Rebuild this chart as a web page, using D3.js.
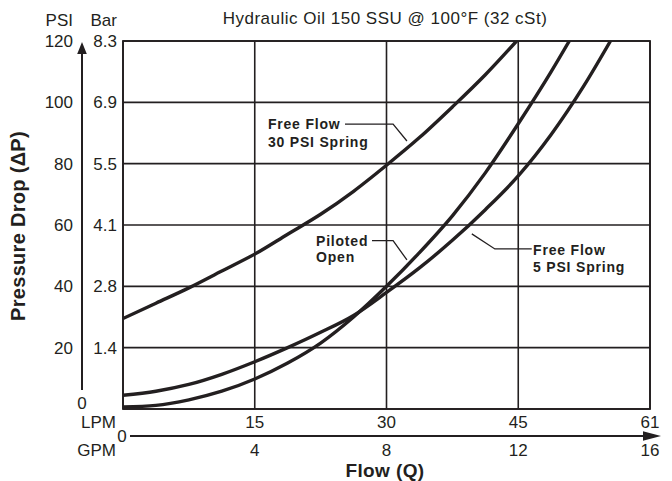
<!DOCTYPE html>
<html>
<head>
<meta charset="utf-8">
<script src="https://cdn.jsdelivr.net/npm/d3@7/dist/d3.min.js"></script>
<style>
  html, body { margin: 0; padding: 0; background: #fff; }
  svg { display: block; font-family: "Liberation Sans", Arial, Helvetica, sans-serif; }
</style>
</head>
<body>
<svg id="chart" width="672" height="481"></svg>
<script>
// ---------- data ----------
const gpmTicks = [0, 4, 8, 12, 16];
const gpmLabels = ["0", "4", "8", "12", "16"];
const lpmLabels = ["15", "30", "45", "61"];          // shown at GPM 4, 8, 12, 16
const psiTicks = [0, 20, 40, 60, 80, 100, 120];
const psiLabels = ["0", "20", "40", "60", "80", "100", "120"];
const barLabels = ["1.4", "2.8", "4.1", "5.5", "6.9", "8.3"];   // at PSI 20..120

const freeFlow30Gpm = [0, 1, 2, 3, 4, 5, 6, 7, 8, 9, 10, 11, 11.95];
const freeFlow30Psi = [29.5, 34.5, 39.5, 45, 50.5, 57, 63.5, 71, 79.5, 88.5, 98.5, 109, 120];

const pilotedGpm = [0, 1, 2, 3, 4, 5, 6, 7, 8, 9, 10, 11, 12, 13, 13.55];
const pilotedPsi = [0.7, 1.2, 3, 5.8, 9.8, 15, 21.5, 30, 40, 51, 63, 77, 93, 110, 120];

const freeFlow5Gpm = [0, 1, 2, 3, 4, 5, 6, 7, 8, 9, 10, 11, 12, 13, 14, 14.8];
const freeFlow5Psi = [4.5, 5.8, 8, 11.3, 15.4, 20, 25, 30.5, 38, 46, 55, 65, 76, 89.5, 105.5, 120];

// ---------- setup ----------
const ink = "#231f20";
const svg = d3.select("#chart");
const x = d3.scaleLinear().domain([0, 16]).range([123, 650]);
const y = d3.scaleLinear().domain([0, 120]).range([409, 41]);

svg.append("defs").append("clipPath").attr("id", "plotClip")
  .append("rect").attr("x", x(0)).attr("y", y(120)).attr("width", x(16) - x(0)).attr("height", y(0) - y(120));

// grid
const grid = svg.append("g");
grid.selectAll("line.h").data(psiTicks).join("line")
  .attr("x1", x(0)).attr("x2", x(16)).attr("y1", d => y(d)).attr("y2", d => y(d))
  .attr("stroke", ink).attr("stroke-width", 1.6);
grid.selectAll("line.v").data(gpmTicks).join("line")
  .attr("y1", y(0)).attr("y2", y(120)).attr("x1", d => x(d)).attr("x2", d => x(d))
  .attr("stroke", ink).attr("stroke-width", 1.6);
grid.append("rect").attr("x", x(0)).attr("y", y(120)).attr("width", x(16) - x(0)).attr("height", y(0) - y(120))
  .attr("fill", "none").attr("stroke", ink).attr("stroke-width", 1.8);

// curves
const line = d3.line().x(d => x(d[0])).y(d => y(d[1])).curve(d3.curveMonotoneX);
const series = [
  d3.zip(freeFlow30Gpm, freeFlow30Psi),
  d3.zip(pilotedGpm, pilotedPsi),
  d3.zip(freeFlow5Gpm, freeFlow5Psi)
];
svg.append("g").attr("clip-path", "url(#plotClip)")
  .selectAll("path").data(series).join("path")
  .attr("d", line).attr("fill", "none").attr("stroke", ink).attr("stroke-width", 3.4)
  .attr("stroke-linecap", "round");

// y axis labels
const yl = svg.append("g").attr("fill", ink).style("font-size", "17px");
yl.selectAll("text.psi").data(psiTicks.slice(1)).join("text")
  .attr("x", 73).attr("y", d => y(d)).attr("dy", "0.36em").attr("text-anchor", "end")
  .text((d, i) => psiLabels[i + 1]);
yl.selectAll("text.bar").data(psiTicks.slice(1)).join("text")
  .attr("x", 117).attr("y", d => y(d)).attr("dy", "0.36em").attr("text-anchor", "end")
  .text((d, i) => barLabels[i]);
yl.append("text").attr("x", 82).attr("y", 403).attr("dy", "0.36em").attr("text-anchor", "middle").text(psiLabels[0]);
yl.append("text").attr("x", 73).attr("y", 26).attr("text-anchor", "end").text("PSI");
yl.append("text").attr("x", 117).attr("y", 26).attr("text-anchor", "end").text("Bar");

// y arrow
svg.append("line").attr("x1", 82).attr("x2", 82).attr("y1", 390).attr("y2", 52)
  .attr("stroke", ink).attr("stroke-width", 2);
svg.append("path").attr("d", "M82,42 L77.2,54 L86.8,54 Z").attr("fill", ink);

// x axis labels
const xl = svg.append("g").attr("fill", ink).style("font-size", "17px");
xl.selectAll("text.lpm").data(gpmTicks.slice(1)).join("text")
  .attr("x", d => x(d)).attr("y", 422).attr("dy", "0.36em").attr("text-anchor", "middle")
  .text((d, i) => lpmLabels[i]);
xl.selectAll("text.gpm").data(gpmTicks.slice(1)).join("text")
  .attr("x", d => x(d)).attr("y", 449.5).attr("dy", "0.36em").attr("text-anchor", "middle")
  .text((d, i) => gpmLabels[i + 1]);
xl.append("text").attr("x", 116).attr("y", 421.5).attr("dy", "0.36em").attr("text-anchor", "end").text("LPM");
xl.append("text").attr("x", 116).attr("y", 449.5).attr("dy", "0.36em").attr("text-anchor", "end").text("GPM");
xl.append("text").attr("x", 122).attr("y", 436).attr("dy", "0.36em").attr("text-anchor", "middle").text(gpmLabels[0]);

// x arrow
svg.append("line").attr("x1", 130).attr("x2", 648).attr("y1", 436).attr("y2", 436)
  .attr("stroke", ink).attr("stroke-width", 2);
svg.append("path").attr("d", "M661,436 L643,431.2 L643,440.8 Z").attr("fill", ink);

// titles
svg.append("text").attr("x", 385).attr("y", 24).attr("text-anchor", "middle")
  .attr("fill", ink).style("font-size", "17px").style("letter-spacing", "0.5px")
  .text("Hydraulic Oil 150 SSU @ 100°F (32 cSt)");
svg.append("text").attr("x", 385).attr("y", 476.5).attr("text-anchor", "middle")
  .attr("fill", ink).style("font-size", "19px").style("font-weight", "bold").style("letter-spacing", "0.4px")
  .text("Flow (Q)");
svg.append("text").attr("transform", "translate(25,226) rotate(-90)").attr("text-anchor", "middle")
  .attr("fill", ink).style("font-size", "20px").style("font-weight", "bold").style("letter-spacing", "0.3px")
  .text("Pressure Drop (\u0394P)");

// annotations (data coordinates: GPM, PSI)
const annotations = [
  { lines: ["Free Flow", "30 PSI Spring"], tx: 4.40, ty: [91.3, 85.4], leader: [[6.74, 92.9], [8.20, 92.9], [8.62, 87.4]] },
  { lines: ["Piloted", "Open"], tx: 5.86, ty: [53.1, 47.9], leader: [[7.56, 54.9], [8.20, 54.9], [8.62, 48.6]] },
  { lines: ["Free Flow", "5 PSI Spring"], tx: 12.45, ty: [50.2, 44.8], leader: [[12.41, 52.2], [11.29, 52.2], [10.59, 57.1]] }
];
const ann = svg.append("g");
annotations.forEach(a => {
  a.lines.forEach((t, i) => {
    ann.append("text").attr("x", x(a.tx)).attr("y", y(a.ty[i]))
      .attr("fill", ink).style("font-size", "14px").style("font-weight", "bold").style("letter-spacing", "0.8px")
      .text(t);
  });
  ann.append("path").attr("d", d3.line().x(d => x(d[0])).y(d => y(d[1]))(a.leader))
    .attr("fill", "none").attr("stroke", ink).attr("stroke-width", 1.3);
});
</script>
</body>
</html>
